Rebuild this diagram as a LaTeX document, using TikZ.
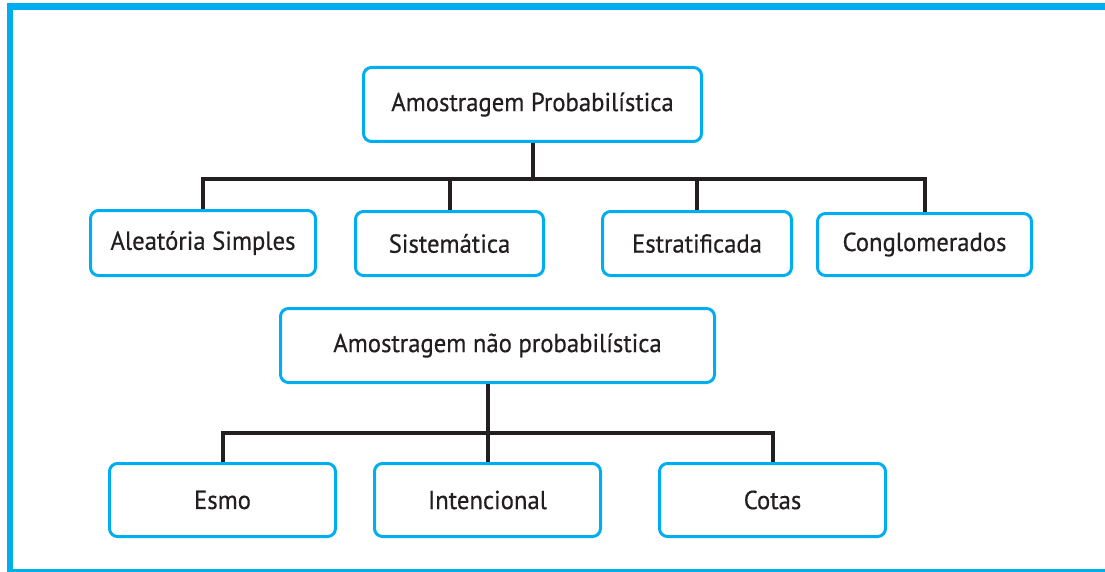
\documentclass[tikz,border=0pt]{standalone}
\usepackage{fontspec}
\setmainfont{PT Sans}[FakeStretch=0.95,FakeBold=0.5]
\definecolor{frameblue}{HTML}{00AEEF}
\definecolor{linedark}{HTML}{231F20}
\begin{document}
\begin{tikzpicture}[x=1pt,y=1pt,
  box/.style={draw=frameblue, line width=3pt, rounded corners=8pt, fill=white,
    text=linedark, font=\fontsize{26}{30}\selectfont, inner sep=0pt},
  conn/.style={draw=linedark, line width=4pt, line join=miter}]
\useasboundingbox (0,0) rectangle (1105,-572);
% frame
\fill[frameblue] (6.7,-3.3) rectangle (1105,-10);
\fill[frameblue] (6.7,-3.3) rectangle (13.3,-572);
\fill[frameblue] (6.7,-569) rectangle (1105,-572);
% nodes
\node[box, minimum width=338pt, minimum height=74pt] (P) at (532.5,-104.5) {Amostragem Probabilística};
\node[box, minimum width=225pt, minimum height=65pt] (A1) at (203,-243) {Aleatória Simples};
\node[box, minimum width=188pt, minimum height=64pt] (A2) at (449.5,-243.5) {Sistemática};
\node[box, minimum width=189pt, minimum height=64pt] (A3) at (697,-243.5) {Estratificada};
\node[box, minimum width=214pt, minimum height=62pt] (A4) at (924.5,-244.5) {Conglomerados};
\node[box, minimum width=434pt, minimum height=74pt] (N) at (497.5,-345.5) {Amostragem não probabilística};
\node[box, minimum width=226pt, minimum height=73pt] (B1) at (222.5,-500) {Esmo};
\node[box, minimum width=226pt, minimum height=73pt] (B2) at (487.5,-500) {Intencional};
\node[box, minimum width=226pt, minimum height=73pt] (B3) at (772.5,-500) {Cotas};
% hubs
\coordinate (h1) at (532.5,-179);
\coordinate (h2) at (487.5,-432.5);
% connectors
\draw[conn] (P.south) -- (h1);
\draw[conn] (A1.north) |- (h1) -| (A4.north);
\draw[conn] (A2.north) -- (A2.north |- h1);
\draw[conn] (A3.north) -- (A3.north |- h1);
\draw[conn] (N.south -| B2.north) -- (B2.north);
\draw[conn] (B1.north) |- (h2) -| (B3.north);
\end{tikzpicture}
\end{document}
